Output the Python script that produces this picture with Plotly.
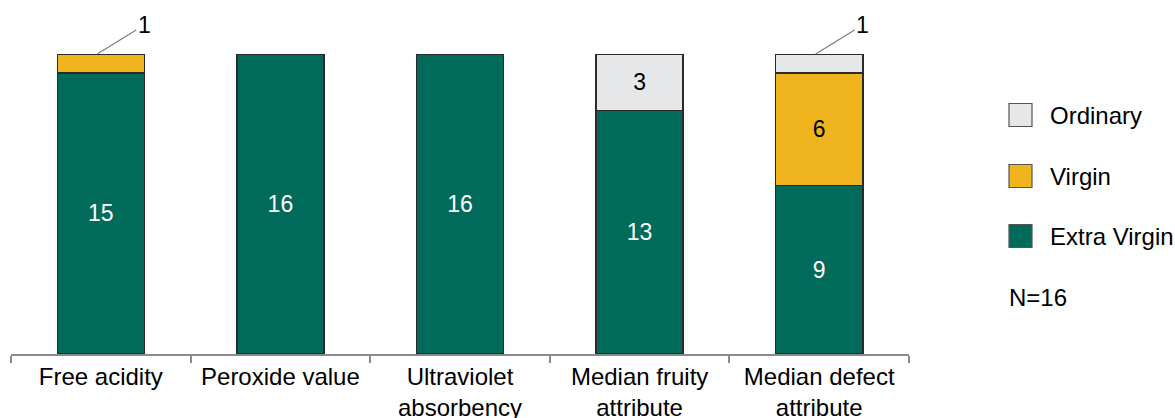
import plotly.graph_objects as go

# Category labels along the x axis
categories = [
    "Free acidity",
    "Peroxide value",
    "Ultraviolet<br>absorbency",
    "Median fruity<br>attribute",
    "Median defect<br>attribute",
]

# Counts per grade (N = 16 oils)
extra_virgin = [15, 16, 16, 13, 9]
virgin = [1, 0, 0, 0, 6]
ordinary = [0, 0, 0, 3, 1]

series_names = ["Extra Virgin", "Virgin", "Ordinary"]
colors = {"Extra Virgin": "#006A5B", "Virgin": "#F0B51E", "Ordinary": "#E6E7E8"}
text_colors = {"Extra Virgin": "white", "Virgin": "black", "Ordinary": "black"}
FONT = "Liberation Sans, Arial, sans-serif"
FS_BAR = 23
FS_TXT = 24

W, H = 1175, 418
M_L, M_R, M_T, M_B = 11, 266, 54, 64

fig = go.Figure()
for name, vals in zip(series_names, [extra_virgin, virgin, ordinary]):
    # segments of 1 are labelled with a leader line instead of inside text
    labels = [str(v) if v > 1 else "" for v in vals]
    fig.add_trace(go.Bar(
        x=categories, y=vals, name=name,
        marker=dict(color=colors[name], line=dict(color="#2a2a2a", width=1.5)),
        text=labels, textposition="inside", insidetextanchor="middle",
        textfont=dict(color=text_colors[name], size=FS_BAR, family=FONT),
        textangle=0, width=0.485, showlegend=False,
    ))

# Leader-line labels for single-count top segments
for i in range(len(categories)):
    top = extra_virgin[i] + virgin[i] + ordinary[i]
    small = virgin[i] if (virgin[i] == 1 and ordinary[i] == 0) else ordinary[i]
    if small == 1:
        fig.add_annotation(
            x=i - 0.02, y=top, xref="x", yref="y", text=str(small),
            showarrow=True, arrowhead=0, arrowwidth=1.3, arrowcolor="#808080",
            ax=47, ay=-29, standoff=0, startstandoff=0,
            font=dict(size=FS_BAR, family=FONT, color="black"),
        )

# Legend drawn as swatches + labels in pixel positions
def px_x(p):
    return (p - M_L) / (W - M_L - M_R)

def px_y(p):
    return 1 - (p - M_T) / (H - M_T - M_B)

legend_rows = [("Ordinary", 115), ("Virgin", 176), ("Extra Virgin", 236)]
for name, yc in legend_rows:
    fig.add_shape(type="rect", xref="paper", yref="paper",
                  x0=px_x(1009), x1=px_x(1032), y0=px_y(yc + 11.5), y1=px_y(yc - 11.5),
                  fillcolor=colors[name], line=dict(color="#555555", width=1.2))
    fig.add_annotation(xref="paper", yref="paper", x=px_x(1048), y=px_y(yc),
                       text=name, showarrow=False, xanchor="left", yanchor="middle",
                       font=dict(size=FS_TXT, family=FONT, color="black"))
fig.add_annotation(xref="paper", yref="paper", x=px_x(1007), y=px_y(297),
                   text="N=16", showarrow=False, xanchor="left", yanchor="middle",
                   font=dict(size=FS_TXT, family=FONT, color="black"))

fig.update_layout(
    barmode="stack", width=W, height=H,
    margin=dict(l=M_L, r=M_R, t=M_T, b=M_B, autoexpand=False),
    plot_bgcolor="white", paper_bgcolor="white",
    font=dict(family=FONT, size=FS_TXT, color="black"),
    xaxis=dict(
        showline=True, linecolor="#8a8a8a", linewidth=2,
        ticks="outside", tickson="boundaries", ticklen=7, tickwidth=2, tickcolor="#8a8a8a",
        tickfont=dict(size=FS_TXT, family=FONT, color="black"),
        showgrid=False, range=[-0.5, 4.5],
    ),
    yaxis=dict(visible=False, range=[0, 16], showgrid=False),
)

fig.write_html("out.html")
